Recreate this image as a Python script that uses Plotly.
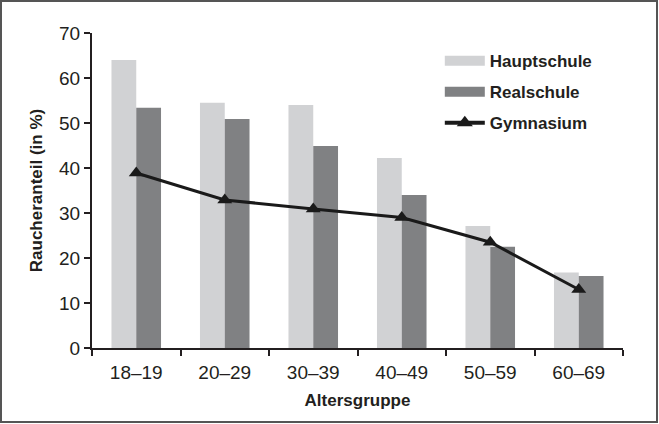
import plotly.graph_objects as go

categories = ["18–19", "20–29", "30–39", "40–49", "50–59", "60–69"]
hauptschule = [64, 54.5, 54, 42.2, 27.1, 16.8]
realschule = [53.4, 50.9, 44.9, 34, 22.5, 16]
gymnasium = [38.9, 32.9, 30.9, 29, 23.5, 13]
y_ticks = [0, 10, 20, 30, 40, 50, 60, 70]

FONT = "Liberation Sans, Arial, sans-serif"
W, H = 659, 424
L, R, T, B = 92, 36, 33, 76
pw, ph = W - L - R, H - T - B
C_H, C_R, C_G = "#d1d2d4", "#808183", "#1a1a1a"

fig = go.Figure()
fig.add_trace(go.Bar(x=categories, y=hauptschule, name="Hauptschule",
                     marker=dict(color=C_H, line=dict(width=0)), showlegend=False))
fig.add_trace(go.Bar(x=categories, y=realschule, name="Realschule",
                     marker=dict(color=C_R, line=dict(width=0)), showlegend=False))
fig.add_trace(go.Scatter(x=categories, y=gymnasium, name="Gymnasium",
                         mode="lines+markers",
                         line=dict(color=C_G, width=3),
                         marker=dict(symbol="triangle-up", size=13, color=C_G),
                         showlegend=False))
# legend entries (wide swatches like the original)
for nm, col in [("Hauptschule", C_H), ("Realschule", C_R)]:
    fig.add_trace(go.Scatter(x=[None], y=[None], name=nm, mode="lines",
                             line=dict(color=col, width=13), legendgroup=nm))
fig.add_trace(go.Scatter(x=[None], y=[None], name="Gymnasium", mode="lines+markers",
                         line=dict(color=C_G, width=4),
                         marker=dict(symbol="triangle-up", size=14, color=C_G),
                         legendgroup="Gymnasium"))

fig.update_layout(
    width=W, height=H,
    margin=dict(l=L, r=R, t=T, b=B),
    paper_bgcolor="white", plot_bgcolor="white",
    barmode="group", bargap=0.44, bargroupgap=0,
    font=dict(family=FONT, color="#231f20", size=18),
    showlegend=True,
    legend=dict(x=0.655, y=0.968, xanchor="left", yanchor="top",
                font=dict(size=17, family=FONT, color="#231f20", weight="bold"),
                tracegroupgap=6, traceorder="grouped",
                bgcolor="rgba(0,0,0,0)", itemwidth=40),
    xaxis=dict(type="category", showline=True, linecolor="#231f20", linewidth=2,
               ticks="outside", tickson="boundaries", ticklen=6, tickwidth=1.5,
               tickcolor="#231f20", showgrid=False, ticklabelstandoff=6,
               tickfont=dict(size=19, family=FONT),
               title=dict(text="<b>Altersgruppe</b>", font=dict(size=17, family=FONT),
                          standoff=12),
               range=[-0.5, 5.5]),
    yaxis=dict(range=[0, 70], tickvals=y_ticks, showline=True, linecolor="#231f20",
               linewidth=2, ticks="outside", ticklen=6, tickwidth=1.5,
               tickcolor="#231f20", showgrid=False, zeroline=False,
               tickfont=dict(size=19, family=FONT),
               title=dict(text="<b>Raucheranteil (in %)</b>",
                          font=dict(size=17, family=FONT), standoff=12)),
    shapes=[dict(type="rect", xref="paper", yref="paper",
                 x0=-(L - 1) / pw, x1=1 + (R - 2) / pw,
                 y0=-(B - 2) / ph, y1=1 + (T - 1) / ph,
                 line=dict(color="#555555", width=2), fillcolor="rgba(0,0,0,0)",
                 layer="below")],
)

fig.write_html("out.html", config={"displayModeBar": False},
               post_script="document.body.style.margin='0';document.body.style.padding='0';")
